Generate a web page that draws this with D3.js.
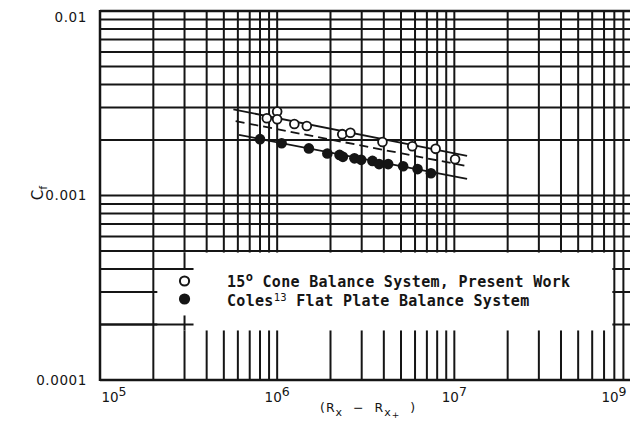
<!DOCTYPE html>
<html><head><meta charset="utf-8">
<script src="https://cdn.jsdelivr.net/npm/d3@7"></script>
<style>body{margin:0;background:#fff}svg{display:block}</style>
</head><body><svg id="c" width="630" height="429"></svg>
<script>
// ---- data ----
const xTickValues = [1e5, 1e6, 1e7, 1e8];
const xTickExponents = ["5", "6", "7", "9"];
const yTickValues = [1e-4, 1e-3, 1e-2];
const yTickLabels = ["0.0001", "0.001", "0.01"];

const coneRe = [8.74e5, 1.0e6, 1.0e6, 1.25e6, 1.47e6, 2.33e6, 2.59e6, 3.93e6, 5.79e6, 7.84e6, 1.01e7];
const coneCf = [2.62e-3, 2.85e-3, 2.59e-3, 2.44e-3, 2.38e-3, 2.15e-3, 2.19e-3, 1.95e-3, 1.85e-3, 1.79e-3, 1.57e-3];

const colesRe = [8.0e5, 1.06e6, 1.51e6, 1.92e6, 2.25e6, 2.35e6, 2.73e6, 2.98e6, 3.45e6, 3.76e6, 4.23e6, 5.14e6, 6.2e6, 7.38e6];
const colesCf = [2.02e-3, 1.92e-3, 1.80e-3, 1.69e-3, 1.66e-3, 1.62e-3, 1.59e-3, 1.56e-3, 1.54e-3, 1.48e-3, 1.48e-3, 1.44e-3, 1.39e-3, 1.32e-3];

const upperFitRe = [5.66e5, 1.18e7], upperFitCf = [2.93e-3, 1.64e-3];
const dashedFitRe = [5.83e5, 1.15e7], dashedFitCf = [2.53e-3, 1.45e-3];
const lowerFitRe = [6.09e5, 1.18e7], lowerFitCf = [2.13e-3, 1.23e-3];

const legendMain = ["15", " Cone Balance System, Present Work"];
const legendSup = ["o", "13"];
const legendRest = ["Coles", " Flat Plate Balance System"];

// ---- drawing ----
const svg = d3.select("#c");
const ink = "#151515";
const x = d3.scaleLog().domain([1e5, 1e8]).range([100, 631.5]);
const y = d3.scaleLog().domain([1e-4, 1e-2]).range([380, 11]);
const X0 = 100, X1 = 631, Y0 = 380, Y1 = 11;

const grid = svg.append("g").attr("stroke", ink).attr("stroke-width", 2).attr("fill", "none");
grid.selectAll(".v").data(x.ticks()).join("line")
  .attr("x1", d => x(d)).attr("x2", d => x(d)).attr("y1", Y1).attr("y2", Y0);
grid.selectAll(".h").data(y.ticks()).join("line")
  .attr("x1", X0).attr("x2", X1).attr("y1", d => y(d)).attr("y2", d => y(d));
// frame
grid.append("line").attr("x1", X0).attr("x2", X0).attr("y1", Y1 - 1).attr("y2", Y0 + 1).attr("stroke-width", 2.5);
grid.append("line").attr("x1", X0).attr("x2", X1).attr("y1", Y0).attr("y2", Y0).attr("stroke-width", 2.5);
grid.append("line").attr("x1", X0).attr("x2", X1).attr("y1", Y1).attr("y2", Y1).attr("stroke-width", 2.5);

// white legend patch pasted over the grid
const lx0 = x(2e5) + 4, lx1 = x(8e7) - 2, ly0 = y(5e-4) + 1.5, ly1 = y(2e-4) + 6;
svg.append("rect").attr("x", lx0).attr("y", ly0).attr("width", lx1 - lx0).attr("height", ly1 - ly0).attr("fill", "#fff");
const patch = svg.append("g").attr("stroke", ink).attr("stroke-width", 2);
[4e-4, 2e-4].forEach(v => patch.append("line").attr("x1", X0).attr("x2", x(3e5) + 9).attr("y1", y(v)).attr("y2", y(v)));
patch.append("line").attr("x1", x(3e5)).attr("x2", x(3e5)).attr("y1", ly0).attr("y2", y(4e-4));
patch.append("line").attr("x1", x(3e5)).attr("x2", x(3e5)).attr("y1", y(2e-4) - 9).attr("y2", ly1);

// fitted lines
const line = d3.line().x(d => x(d[0])).y(d => y(d[1]));
const fits = svg.append("g").attr("stroke", ink).attr("stroke-width", 1.8).attr("fill", "none");
fits.append("path").attr("d", line(d3.zip(upperFitRe, upperFitCf)));
fits.append("path").attr("d", line(d3.zip(dashedFitRe, dashedFitCf))).attr("stroke-dasharray", "9,5");
fits.append("path").attr("d", line(d3.zip(lowerFitRe, lowerFitCf)));

// points
svg.append("g").selectAll("circle").data(d3.zip(colesRe, colesCf)).join("circle")
  .attr("cx", d => x(d[0])).attr("cy", d => y(d[1])).attr("r", 5.3).attr("fill", ink);
svg.append("g").selectAll("circle").data(d3.zip(coneRe, coneCf)).join("circle")
  .attr("cx", d => x(d[0])).attr("cy", d => y(d[1])).attr("r", 4.4)
  .attr("fill", "#fff").attr("stroke", ink).attr("stroke-width", 1.8);

// y tick labels
const lab = "'DejaVu Sans', sans-serif";
svg.append("g").selectAll("text").data(yTickValues).join("text")
  .attr("x", 87).attr("y", d => Math.max(y(d), 17)).attr("dy", "0.36em")
  .attr("text-anchor", "end").attr("font-family", lab).attr("font-size", 13.5)
  .attr("letter-spacing", 0.6).attr("fill", ink)
  .text((d, i) => yTickLabels[i]);

// x tick labels
const xt = svg.append("g").selectAll("text").data(xTickValues).join("text")
  .attr("x", d => Math.min(Math.max(x(d), 114), 614)).attr("y", 402)
  .attr("text-anchor", "middle").attr("font-family", lab).attr("font-size", 13.5).attr("fill", ink);
xt.append("tspan").text("10");
xt.append("tspan").attr("dy", -6).attr("font-size", 12.5).text((d, i) => xTickExponents[i]);

// axis titles
const xtitle = svg.append("text").attr("x", 320).attr("y", 412).attr("font-family", lab)
  .attr("font-size", 12.5).attr("letter-spacing", 1).attr("fill", ink).attr("style", "white-space:pre");
xtitle.append("tspan").text("(R");
xtitle.append("tspan").attr("dy", 4).attr("font-size", 11).text("x");
xtitle.append("tspan").attr("dy", -4).text("  \u2212  R");
xtitle.append("tspan").attr("dy", 4).attr("font-size", 11).text("x");
xtitle.append("tspan").attr("dy", 2).attr("font-size", 9).text("+");
xtitle.append("tspan").attr("dy", -6).text("  )");

const ytitle = svg.append("text").attr("transform", "translate(43,193) rotate(-90)")
  .attr("text-anchor", "middle").attr("font-family", lab).attr("font-size", 15).attr("fill", ink);
ytitle.append("tspan").text("C");
ytitle.append("tspan").attr("dy", 4).attr("font-size", 11).text("f");

// legend
const lg = svg.append("g");
const markerX = x(3e5);
lg.append("circle").attr("cx", markerX).attr("cy", 281).attr("r", 4.6)
  .attr("fill", "#fff").attr("stroke", ink).attr("stroke-width", 2);
lg.append("circle").attr("cx", markerX).attr("cy", 299).attr("r", 5.6).attr("fill", ink);
const mono = "'DejaVu Sans Mono', monospace";
const t1 = lg.append("text").attr("x", 227).attr("y", 287).attr("font-family", mono)
  .attr("font-weight", "bold").attr("font-size", 15).attr("letter-spacing", 0.3).attr("fill", ink).attr("style", "white-space:pre");
t1.append("tspan").text(legendMain[0]);
t1.append("tspan").attr("dy", -6).attr("font-size", 12).text(legendSup[0]);
t1.append("tspan").attr("dy", 6).text(legendMain[1]);
const t2 = lg.append("text").attr("x", 227).attr("y", 306).attr("font-family", mono)
  .attr("font-weight", "bold").attr("font-size", 15).attr("letter-spacing", 0.3).attr("fill", ink).attr("style", "white-space:pre");
t2.append("tspan").text(legendRest[0]);
t2.append("tspan").attr("dy", -5).attr("font-size", 10.5).attr("font-weight", "normal").text(legendSup[1]);
t2.append("tspan").attr("dy", 5).text(legendRest[1]);
</script>
</body></html>
